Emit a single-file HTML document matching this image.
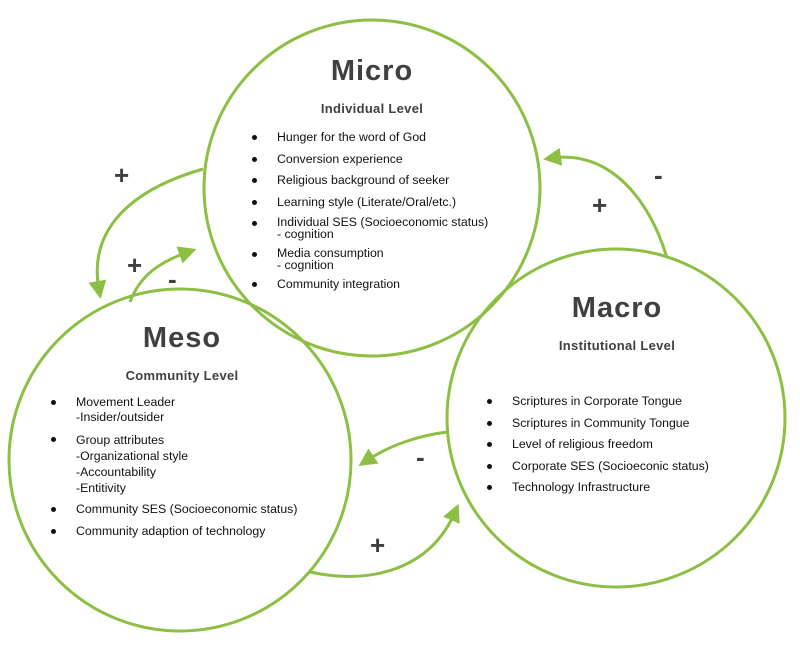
<!DOCTYPE html>
<html><head><meta charset="utf-8"><style>
body{margin:0;background:#fff;width:800px;height:647px;overflow:hidden;position:relative;font-family:"Liberation Sans",sans-serif;}
svg{position:absolute;left:0;top:0}
.t{position:absolute;font-size:29px;font-weight:bold;color:#404040;text-align:center;letter-spacing:1px}
.s{position:absolute;font-size:13px;font-weight:bold;color:#404040;text-align:center;letter-spacing:0.3px}
ul{position:absolute;margin:0;padding:0 0 0 0;list-style:none;font-size:12.3px;color:#111;}
li{position:relative;padding-left:26px;line-height:15px;margin-bottom:6.5px}
li:before{content:"";position:absolute;left:1px;top:5px;width:5px;height:5px;border-radius:50%;background:#111}
.sg{position:absolute;font-size:26px;font-weight:bold;color:#404040}
</style></head><body>
<svg width="800" height="647" viewBox="0 0 800 647">
<defs><marker id="a" viewBox="0 0 10 10" refX="5" refY="5" markerWidth="6" markerHeight="6" orient="auto"><path d="M0,0L10,5L0,10z" fill="#8cbf44"/></marker></defs>
<g fill="none" stroke="#8cbf44" stroke-width="3">
<circle cx="372" cy="188" r="168"/>
<circle cx="180" cy="460" r="171"/>
<circle cx="616" cy="418" r="169"/>
<path d="M203,169 C130,190 88,230 99,290" marker-end="url(#a)"/>
<path d="M130,302 C140,275 160,262 188,252" marker-end="url(#a)"/>
<path d="M667,258 C650,200 610,150 552,158" marker-end="url(#a)"/>
<path d="M448,432 C420,435 390,445 366,461" marker-end="url(#a)"/>
<path d="M310,572 C370,585 430,570 455,512" marker-end="url(#a)"/>
</g>
</svg>
<div class="t" style="left:272px;top:55px;width:200px">Micro</div>
<div class="s" style="left:272px;top:101px;width:200px">Individual Level</div>
<ul style="left:251px;top:130px;width:300px">
<li>Hunger for the word of God</li>
<li>Conversion experience</li>
<li>Religious background of seeker</li>
<li>Learning style (Literate/Oral/etc.)</li>
<li style="line-height:12px">Individual SES (Socioeconomic status)<br>- cognition</li>
<li style="line-height:12px">Media consumption<br>- cognition</li>
<li>Community integration</li>
</ul>
<div class="t" style="left:82px;top:322px;width:200px">Meso</div>
<div class="s" style="left:82px;top:368px;width:200px">Community Level</div>
<ul style="left:50px;top:395px;width:300px">
<li style="line-height:15px">Movement Leader<br>-Insider/outsider</li>
<li style="line-height:16px;margin-top:4px">Group attributes<br>-Organizational style<br>-Accountability<br>-Entitivity</li>
<li>Community SES (Socioeconomic status)</li>
<li>Community adaption of technology</li>
</ul>
<div class="t" style="left:517px;top:292px;width:200px">Macro</div>
<div class="s" style="left:517px;top:338px;width:200px">Institutional Level</div>
<ul style="left:486px;top:394px;width:300px">
<li>Scriptures in Corporate Tongue</li>
<li>Scriptures in Community Tongue</li>
<li>Level of religious freedom</li>
<li>Corporate SES (Socioeconic status)</li>
<li>Technology Infrastructure</li>
</ul>
<div class="sg" style="left:114px;top:160px">+</div>
<div class="sg" style="left:127px;top:250px">+</div>
<div class="sg" style="left:168px;top:264px">-</div>
<div class="sg" style="left:592px;top:190px">+</div>
<div class="sg" style="left:654px;top:160px">-</div>
<div class="sg" style="left:416px;top:442px">-</div>
<div class="sg" style="left:370px;top:530px">+</div>
</body></html>
